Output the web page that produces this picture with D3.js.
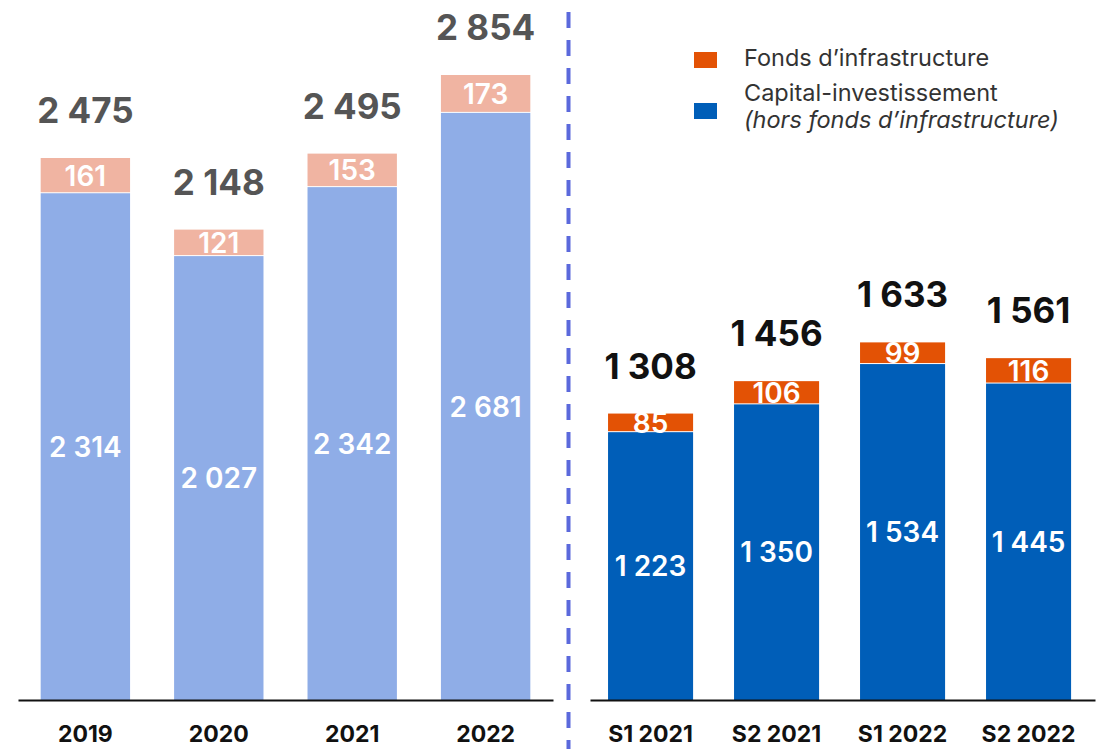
<!DOCTYPE html>
<html>
<head>
<meta charset="utf-8">
<script src="https://cdn.jsdelivr.net/npm/d3@7"></script>
<style>
  body { margin: 0; background: #fff; }
  svg text { font-family: Inter, "Noto Sans", sans-serif; }
</style>
</head>
<body>
<div id="container"></div>
<script>
// annual figures
const years = ['2019', '2020', '2021', '2022'];
const peYear = [2314, 2027, 2342, 2681];
const infraYear = [161, 121, 153, 173];
const totalYear = [2475, 2148, 2495, 2854];

// half-year figures
const halves = ['S1 2021', 'S2 2021', 'S1 2022', 'S2 2022'];
const peHalf = [1223, 1350, 1534, 1445];
const infraHalf = [85, 106, 99, 116];
const totalHalf = [1308, 1456, 1633, 1561];

const legendLabels = ['Fonds d\u2019infrastructure', 'Capital-investissement', '(hors fonds d\u2019infrastructure)'];

const width = 1099;
const height = 749;
const baseline = 700;

const fr = d3.formatLocale({ decimal: ',', thousands: ' ', grouping: [3], currency: ['', ' €'] });
const fmt = fr.format(',d');

const svg = d3.select('#container')
    .append('svg')
    .attr('width', width)
    .attr('height', height);

const y = d3.scaleLinear()
    .domain([0, 2854])
    .range([baseline, 75]);

function drawPanel(cats, pe, infra, total, opts) {
    const x = d3.scaleBand()
        .domain(cats)
        .range(opts.range)
        .paddingInner(opts.inner)
        .paddingOuter(opts.outer)
        .align(opts.align);

    const rows = cats.map((c, i) => ({ cat: c, pe: pe[i], infra: infra[i], total: total[i] }));
    const g = svg.append('g');

    // private equity segment
    g.selectAll('.pe')
        .data(rows)
        .enter()
        .append('rect')
        .attr('x', d => x(d.cat))
        .attr('y', d => y(d.pe))
        .attr('width', x.bandwidth())
        .attr('height', d => baseline - y(d.pe))
        .attr('fill', opts.peColor);

    // infrastructure segment
    g.selectAll('.infra')
        .data(rows)
        .enter()
        .append('rect')
        .attr('x', d => x(d.cat))
        .attr('y', d => y(d.pe + d.infra))
        .attr('width', x.bandwidth())
        .attr('height', d => y(d.pe) - y(d.pe + d.infra) - 1)
        .attr('fill', opts.infraColor);

    g.selectAll('.pe-label')
        .data(rows)
        .enter()
        .append('text')
        .attr('x', d => x(d.cat) + x.bandwidth() / 2)
        .attr('y', d => (y(d.pe) + baseline) / 2)
        .attr('dy', '0.36em')
        .attr('text-anchor', 'middle')
        .attr('fill', '#fff')
        .attr('font-size', 28)
        .attr('font-weight', 600)
        .text(d => fmt(d.pe));

    g.selectAll('.infra-label')
        .data(rows)
        .enter()
        .append('text')
        .attr('x', d => x(d.cat) + x.bandwidth() / 2)
        .attr('y', d => (y(d.pe) + y(d.pe + d.infra)) / 2)
        .attr('dy', '0.36em')
        .attr('text-anchor', 'middle')
        .attr('fill', '#fff')
        .attr('font-size', 28)
        .attr('font-weight', 600)
        .text(d => fmt(d.infra));

    g.selectAll('.total-label')
        .data(rows)
        .enter()
        .append('text')
        .attr('x', d => x(d.cat) + x.bandwidth() / 2)
        .attr('y', d => y(d.total) - 35)
        .attr('text-anchor', 'middle')
        .attr('fill', opts.totalColor)
        .attr('font-size', 35)
        .attr('font-weight', 700)
        .text(d => fmt(d.total));

    const axis = d3.axisBottom(x).tickSize(0).tickPadding(0);
    const ax = svg.append('g')
        .attr('transform', `translate(0,${baseline})`)
        .call(axis);
    ax.select('.domain').attr('stroke', '#111').attr('stroke-width', 2);
    ax.selectAll('text')
        .attr('y', 42)
        .attr('dy', 0)
        .attr('fill', '#111')
        .attr('font-size', 23)
        .attr('font-weight', 700)
        .style('font-family', 'Inter, sans-serif');
}

drawPanel(years, peYear, infraYear, totalYear, {
    range: [18, 553], inner: 0.33, outer: 0.17, align: 0.5,
    peColor: '#8fade7', infraColor: '#f0b4a2', totalColor: '#555555'
});

drawPanel(halves, peHalf, infraHalf, totalHalf, {
    range: [590, 1095], inner: 0.325, outer: 0.1665, align: 0.43,
    peColor: '#005eb8', infraColor: '#e35205', totalColor: '#111111'
});

// divider
svg.append('line')
    .attr('x1', 568.5).attr('x2', 568.5)
    .attr('y1', 12).attr('y2', height)
    .attr('stroke', '#5b69dc')
    .attr('stroke-width', 4)
    .attr('stroke-dasharray', '16 12');

// legend
const legend = svg.append('g').attr('transform', 'translate(694,0)');
legend.selectAll('rect')
    .data(['#e35205', '#005eb8'])
    .enter()
    .append('rect')
    .attr('x', 0)
    .attr('y', (d, i) => i === 0 ? 52 : 103)
    .attr('width', 23)
    .attr('height', 16)
    .attr('fill', d => d);

legend.selectAll('text')
    .data(legendLabels)
    .enter()
    .append('text')
    .attr('x', 50)
    .attr('y', (d, i) => [66, 101, 128][i])
    .attr('fill', '#333')
    .attr('font-size', 23.5)
    .style('font-style', (d, i) => i === 2 ? 'italic' : 'normal')
    .text(d => d);
</script>
</body>
</html>
